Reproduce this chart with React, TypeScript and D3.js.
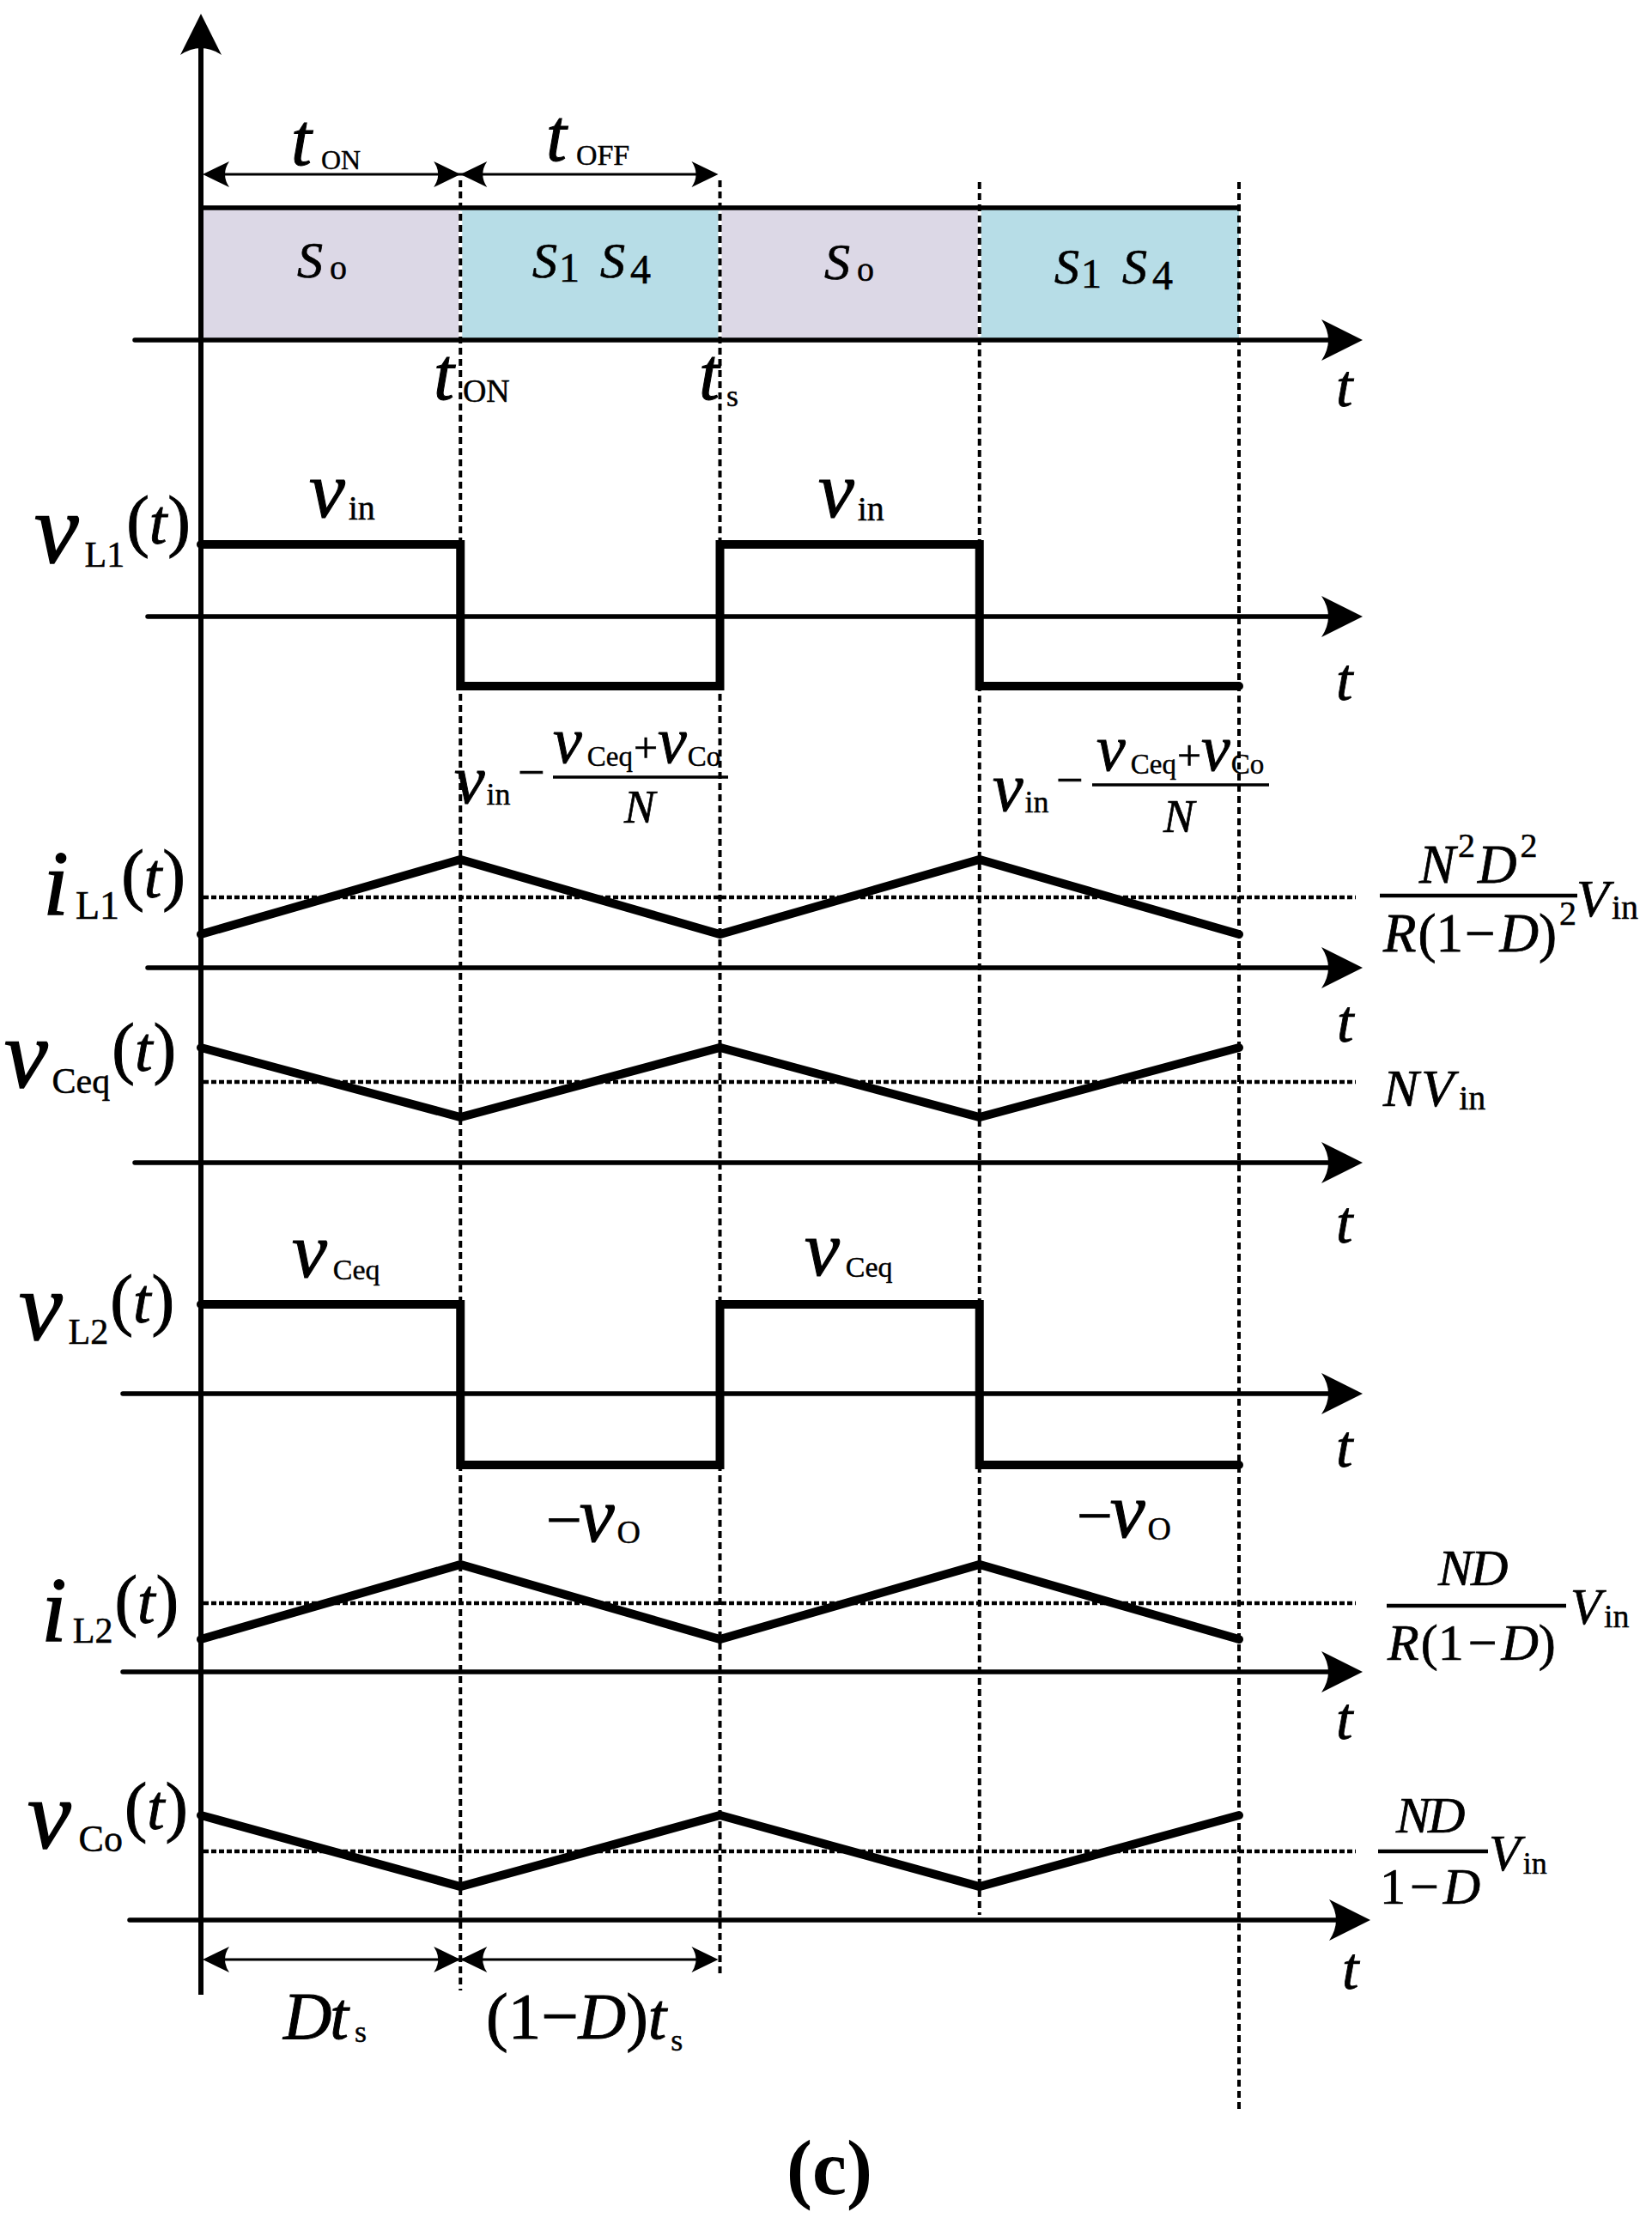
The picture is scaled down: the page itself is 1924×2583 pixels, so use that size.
import React from "react";
import * as d3 from "d3";

const W = 1924;
const H = 2583;
const FONT = "'Liberation Serif','Times New Roman',Times,serif";

// ---------------- data (time in units of the switching period Ts, D = 0.5) ----------------
const switchTimes = [0.5, 1, 1.5, 2];
const phaseStart = [0, 0.5, 1, 1.5];
const phaseEnd = [0.5, 1, 1.5, 2];
const phaseState = ["So", "S1S4", "So", "S1S4"];

const tStep = [0, 0.5, 0.5, 1, 1, 1.5, 1.5, 2];
const vL1Values = [0.84, 0.84, -0.81, -0.81, 0.84, 0.84, -0.81, -0.81];
const vL2Values = [1.04, 1.04, -0.83, -0.83, 1.04, 1.04, -0.83, -0.83];
const tRamp = [0, 0.5, 1, 1.5, 2];
const iL1Values = [0.39, 1.26, 0.39, 1.26, 0.39];
const vCeqValues = [1.34, 0.53, 1.34, 0.53, 1.34];
const iL2Values = [0.38, 1.25, 0.38, 1.25, 0.38];
const vCoValues = [1.22, 0.39, 1.22, 0.39, 1.22];
const iL1Avg = 0.82;
const vCeqAvg = 0.94;
const iL2Avg = 0.8;
const vCoAvg = 0.8;

// ---------------- layout ----------------
const X0 = 234;
const X1 = 1443;
const UNIT = 100;
const rowAxisY = [396, 718, 1127, 1354, 1623, 1947, 2236];
const rowAxisLeft = [157, 172, 172, 157, 143, 143, 151];
const rowArrowTip = [1587, 1587, 1587, 1587, 1587, 1587, 1596];
const rowTLabelX = [1556, 1556, 1557, 1556, 1556, 1556, 1563];
const rowTLabelY = [473, 815, 1213, 1447, 1708, 2025, 2316];
const dashTop = [210, 210, 212, 212];
const dashBottom = [2318, 2303, 2230, 2460];
const avgLineEnd = 1579;
const bandTop = 242;
const spanTopY = 203;
const spanBottomY = 2282;
const bandColors: Record<string, string> = { So: "#DCD8E6", S1S4: "#B7DDE7" };

const x = d3.scaleLinear().domain([0, 2]).range([X0, X1]);
const yRow = (i: number) =>
  d3.scaleLinear().domain([0, 1]).range([rowAxisY[i], rowAxisY[i] - UNIT]);

type Run = { s: string; it?: boolean; fs: number; b?: number; dx?: number; bold?: boolean };
type Label = { x: number; y: number; runs: Run[]; anchor?: string };

const It = (s: string, fs: number, b = 0, dx = 0): Run => ({ s, it: true, fs, b, dx });
const Rm = (s: string, fs: number, b = 0, dx = 0): Run => ({ s, fs, b, dx });

const SoRuns = [It("S", 60), Rm("o", 40, 2, 8)];
const S14Runs = [It("S", 58), Rm("1", 48, 5, 2), It("S", 58, 0, 24), Rm("4", 48, 7, 6)];
const fracLeft = [It("v", 80), Rm("in", 36, 2, 2)];
const fracNum = [It("v", 76), Rm("Ceq", 33, 4, 6), Rm("+", 50, 0, 1), It("v", 76, 0, 0), Rm("Co", 33, 4, 1)];
const tParen = (fs: number, b: number): Run[] => [Rm("(", fs, b, 2), It("t", fs - 6, b), Rm(")", fs, b, 1)];

const labels: Label[] = [
  { x: 339, y: 192, runs: [It("t", 86), Rm("ON", 32, 5, 11)] },
  { x: 636, y: 187, runs: [It("t", 86), Rm("OFF", 34, 5, 11)] },
  { x: 346, y: 323, runs: SoRuns },
  { x: 620, y: 323, runs: S14Runs },
  { x: 960, y: 325, runs: SoRuns },
  { x: 1228, y: 330, runs: S14Runs },
  { x: 505, y: 465, runs: [It("t", 86), Rm("ON", 38, 3, 10)] },
  { x: 814, y: 465, runs: [It("t", 86), Rm("s", 36, 8, 8)] },
  // v_L1
  { x: 40, y: 655, runs: [It("v", 116), Rm("L1", 42, 5, 7), ...tParen(80, -22)] },
  { x: 360, y: 602, runs: [It("v", 94), Rm("in", 40, 3, 4)] },
  { x: 953, y: 602, runs: [It("v", 94), Rm("in", 40, 4, 4)] },
  // v_in - (vCeq + vCo)/N
  { x: 529, y: 935, runs: fracLeft },
  { x: 603, y: 918, runs: [Rm("\u2212", 56)] },
  { x: 644, y: 888, runs: fracNum },
  { x: 727, y: 958, runs: [It("N", 54)] },
  { x: 1156, y: 944, runs: fracLeft },
  { x: 1230, y: 927, runs: [Rm("\u2212", 56)] },
  { x: 1277, y: 897, runs: fracNum },
  { x: 1355, y: 969, runs: [It("N", 54)] },
  // i_L1
  { x: 50, y: 1065, runs: [It("i", 108), Rm("L1", 46, 5, 8), ...tParen(80, -20)] },
  { x: 1653, y: 1028, runs: [It("N", 63), Rm("2", 40, -30, 3), It("D", 63, 0, 3), Rm("2", 40, -30, 4)] },
  { x: 1611, y: 1108, runs: [It("R", 63), Rm("(", 63, 0, 2), Rm("1", 63), Rm("\u2212", 63, 0, 2), It("D", 63, 0, 5), Rm(")", 63), Rm("2", 40, -31, 3)] },
  { x: 1836, y: 1067, runs: [It("V", 62), Rm("in", 40, 3, 3)] },
  // v_Ceq
  { x: 5, y: 1266, runs: [It("v", 114), Rm("Ceq", 42, 7, 5), ...tParen(80, -19)] },
  { x: 1611, y: 1288, runs: [It("N", 62), It("V", 62, 0, 3), Rm("in", 40, 4, 6)] },
  // v_L2
  { x: 22, y: 1560, runs: [It("v", 114), Rm("L2", 42, 5, 7), ...tParen(80, -20)] },
  { x: 340, y: 1487, runs: [It("v", 92), Rm("Ceq", 34, 3, 7)] },
  { x: 937, y: 1485, runs: [It("v", 92), Rm("Ceq", 34, 2, 7)] },
  { x: 636, y: 1795, runs: [Rm("\u2212", 74), It("v", 92, 0, -3), Rm("O", 38, 2, 3)] },
  { x: 1254, y: 1790, runs: [Rm("\u2212", 74), It("v", 92, 0, -3), Rm("O", 38, 3, 3)] },
  // i_L2
  { x: 48, y: 1911, runs: [It("i", 107), Rm("L2", 42, 2, 7), ...tParen(80, -21)] },
  { x: 1675, y: 1846, runs: [It("N", 60), It("D", 60, 0, -2)] },
  { x: 1616, y: 1933, runs: [It("R", 60), Rm("(", 60, 0, 2), Rm("1", 60), Rm("\u2212", 60, 0, 5), It("D", 60, 0, 5), Rm(")", 60)] },
  { x: 1829, y: 1891, runs: [It("V", 59), Rm("in", 38, 4, 3)] },
  // v_Co
  { x: 32, y: 2152, runs: [It("v", 114), Rm("Co", 44, 4, 9), ...tParen(79, -22)] },
  { x: 1626, y: 2134, runs: [It("N", 60), It("D", 60, 0, -3)] },
  { x: 1607, y: 2217, runs: [Rm("1", 60), Rm("\u2212", 60, 0, 5), It("D", 60, 0, 5)] },
  { x: 1734, y: 2178, runs: [It("V", 60), Rm("in", 36, 4, 3)] },
  // bottom spans
  { x: 330, y: 2374, runs: [It("D", 78), It("t", 78, 0, -2), Rm("s", 36, 4, 7)] },
  { x: 566, y: 2374, runs: [Rm("(", 77), Rm("1", 77), Rm("\u2212", 77), It("D", 77), Rm(")", 77), It("t", 77), Rm("s", 36, 14, 5)] },
];

const fracBars = [
  { x1: 644, x2: 848, y: 905, w: 3.5 },
  { x1: 1272, x2: 1478, y: 914, w: 3.5 },
  { x1: 1607, x2: 1837, y: 1043, w: 4.5 },
  { x1: 1615, x2: 1824, y: 1870, w: 4.5 },
  { x1: 1605, x2: 1733, y: 2156, w: 4.5 },
];

function MathText({ l }: { l: Label }) {
  let cur = 0;
  return (
    <text x={l.x} y={l.y} fontFamily={FONT} fill="#000" textAnchor={l.anchor || "start"}>
      {l.runs.map((r, i) => {
        const target = r.b ?? 0;
        const dy = target - cur;
        cur = target;
        return (
          <tspan
            key={i}
            dy={dy}
            dx={r.dx ?? 0}
            fontSize={r.fs}
            fontStyle={r.it ? "italic" : "normal"}
            fontWeight={r.bold ? "bold" : "normal"}
            stroke="#000"
            strokeWidth={r.fs * 0.012}
          >
            {r.s}
          </tspan>
        );
      })}
    </text>
  );
}

function arrowHead(tx: number, ty: number, angle: number, len: number, half: number, concave: number, key: string) {
  const d = `M0,0 L${-len},${-half} Q${-len + 2 * concave},0 ${-len},${half} Z`;
  return <path key={key} d={d} transform={`translate(${tx},${ty}) rotate(${angle})`} fill="#000" />;
}

export default function App() {
  const line = d3
    .line<[number, number]>()
    .x((d) => x(d[0]))
    .y((d) => d[1]);

  const series = [
    { row: 1, t: tStep, v: vL1Values },
    { row: 2, t: tRamp, v: iL1Values },
    { row: 3, t: tRamp, v: vCeqValues },
    { row: 4, t: tStep, v: vL2Values },
    { row: 5, t: tRamp, v: iL2Values },
    { row: 6, t: tRamp, v: vCoValues },
  ];
  const avgs = [
    { row: 2, v: iL1Avg },
    { row: 3, v: vCeqAvg },
    { row: 5, v: iL2Avg },
    { row: 6, v: vCoAvg },
  ];

  return (
    <svg width={W} height={H} viewBox={`0 0 ${W} ${H}`} style={{ position: "absolute", left: 0, top: 0, background: "#fff" }}>
      <rect x={0} y={0} width={W} height={H} fill="#fff" />
      {/* switching-state band */}
      {phaseStart.map((t0, i) => (
        <rect key={"band" + i} x={x(t0)} y={bandTop} width={x(phaseEnd[i]) - x(t0)} height={rowAxisY[0] - bandTop} fill={bandColors[phaseState[i]]} />
      ))}
      {switchTimes.slice(0, 3).map((t, i) => (
        <line key={"wsep" + i} x1={x(t)} x2={x(t)} y1={bandTop + 4} y2={rowAxisY[0] - 4} stroke="#fff" strokeWidth={4} />
      ))}
      <line x1={X0} x2={x(2) + 2} y1={bandTop} y2={bandTop} stroke="#000" strokeWidth={5.5} />

      {/* dashed switching instants */}
      {switchTimes.map((t, i) => (
        <line key={"dash" + i} x1={x(t)} x2={x(t)} y1={dashTop[i]} y2={dashBottom[i]} stroke="#000" strokeWidth={4} strokeDasharray="8 5" />
      ))}

      {/* dotted averages */}
      {avgs.map((a, i) => {
        const y = yRow(a.row)(a.v);
        return <line key={"avg" + i} x1={X0 + 3} x2={avgLineEnd} y1={y} y2={y} stroke="#000" strokeWidth={4.5} strokeDasharray="6 3" />;
      })}

      {/* time axes */}
      {rowAxisY.map((ay, i) => (
        <g key={"axis" + i}>
          <line x1={rowAxisLeft[i]} x2={rowArrowTip[i] - 30} y1={ay} y2={ay} stroke="#000" strokeWidth={5.5} strokeLinecap="round" />
          {arrowHead(rowArrowTip[i], ay, 0, 48, 24, 8, "ah" + i)}
        </g>
      ))}
      {/* vertical axis */}
      <line x1={X0} x2={X0} y1={40} y2={2323} stroke="#000" strokeWidth={6} />
      {arrowHead(X0, 16, -90, 48, 24, 8, "yah")}

      {/* waveforms */}
      {series.map((s, i) => {
        const ys = yRow(s.row);
        const pts: [number, number][] = s.t.map((t, k) => [t, ys(s.v[k])]);
        return (
          <path key={"wf" + i} d={line(pts) || ""} fill="none" stroke="#000" strokeWidth={10} strokeLinecap="round" strokeLinejoin="miter" />
        );
      })}

      {/* span arrows */}
      {[spanTopY, spanBottomY].map((sy, j) => (
        <g key={"span" + j}>
          <line x1={x(0) + 10} x2={x(1) - 10} y1={sy} y2={sy} stroke="#000" strokeWidth={2.8} />
          {arrowHead(x(0) + 2, sy, 180, 31, 15, 5, "s1" + j)}
          {arrowHead(x(0.5), sy, 0, 31, 15, 5, "s2" + j)}
          {arrowHead(x(0.5), sy, 180, 31, 15, 5, "s3" + j)}
          {arrowHead(x(1) - 2, sy, 0, 31, 15, 5, "s4" + j)}
        </g>
      ))}

      {/* fraction bars */}
      {fracBars.map((f, i) => (
        <line key={"fb" + i} x1={f.x1} x2={f.x2} y1={f.y} y2={f.y} stroke="#000" strokeWidth={f.w} />
      ))}

      {/* labels */}
      {rowTLabelY.map((ty, i) => (
        <text key={"tl" + i} x={rowTLabelX[i]} y={ty} fontFamily={FONT} fontStyle="italic" fontSize={70} stroke="#000" strokeWidth={0.8}>
          t
        </text>
      ))}
      {labels.map((l, i) => (
        <MathText key={"lb" + i} l={l} />
      ))}
      <text x={966} y={2555} fontFamily={FONT} fontWeight="bold" fontSize={90} textAnchor="middle">
        (c)
      </text>
    </svg>
  );
}
